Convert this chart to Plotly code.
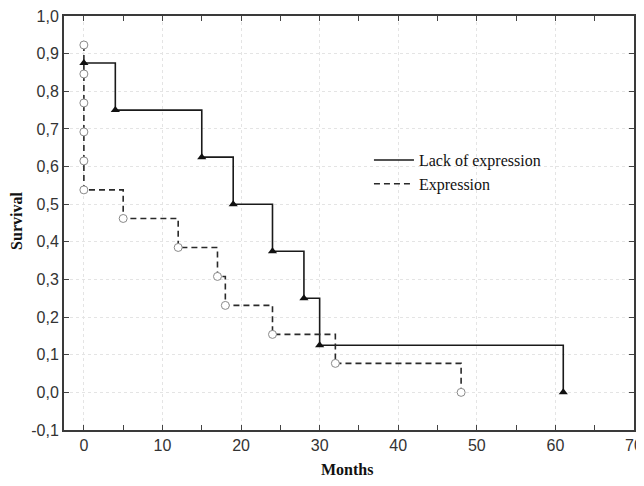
import plotly.graph_objects as go

# Lack of expression (solid, filled triangles)
lack_months = [0, 4, 15, 19, 24, 28, 30, 61]
lack_surv = [0.875, 0.75, 0.625, 0.5, 0.375, 0.25, 0.125, 0.0]

# Expression (dashed, open circles)
expr_months = [0, 0, 0, 0, 0, 0, 5, 12, 17, 18, 24, 32, 48]
expr_surv = [0.923, 0.846, 0.769, 0.692, 0.615, 0.538, 0.462, 0.385, 0.308, 0.231, 0.154, 0.077, 0.0]

y_ticks = [-0.1, 0.0, 0.1, 0.2, 0.3, 0.4, 0.5, 0.6, 0.7, 0.8, 0.9, 1.0]
y_labels = ["-0,1", "0,0", "0,1", "0,2", "0,3", "0,4", "0,5", "0,6", "0,7", "0,8", "0,9", "1,0"]
x_ticks = [0, 10, 20, 30, 40, 50, 60, 70]

fig = go.Figure()

fig.add_trace(go.Scatter(x=lack_months, y=lack_surv, mode="lines", line_shape="hv",
                         line=dict(color="#1a1a1a", width=1.6), name="Lack of expression"))
fig.add_trace(go.Scatter(x=expr_months, y=expr_surv, mode="lines", line_shape="hv",
                         line=dict(color="#2a2a2a", width=1.6, dash="6px,4px"), name="Expression"))
fig.add_trace(go.Scatter(x=expr_months, y=expr_surv, mode="markers", showlegend=False,
                         marker=dict(symbol="circle", size=8, color="white",
                                     line=dict(color="#8a8a8a", width=1))))
fig.add_trace(go.Scatter(x=lack_months, y=lack_surv, mode="markers", showlegend=False,
                         marker=dict(symbol="triangle-up", size=8, color="#111111")))

axis_common = dict(ticks="inside", ticklen=5, tickcolor="#444", mirror="ticks",
                   showline=True, linecolor="#3a3a3a", linewidth=2,
                   showgrid=True, gridcolor="#e4e4e4", griddash="dot", gridwidth=1,
                   zeroline=False, automargin=False, ticklabeloverflow="allow",
                   tickfont=dict(family="Liberation Sans", size=16, color="#333"))

fig.update_layout(
    width=636, height=470,
    margin=dict(l=56, r=10, t=8, b=48),
    plot_bgcolor="white", paper_bgcolor="white",
    showlegend=True,
    legend=dict(x=0.535, y=0.693, xanchor="left", yanchor="top",
                bgcolor="rgba(0,0,0,0)", tracegroupgap=0, itemwidth=40,
                font=dict(family="Liberation Serif", size=16, color="#111")),
    xaxis=dict(range=[-2.53, 70], tickvals=x_ticks,
               minor=dict(dtick=5, tick0=0, ticks="inside", ticklen=5, tickcolor="#444", showgrid=False),
               **axis_common),
    yaxis=dict(range=[-0.1, 1.0], tickvals=y_ticks, ticktext=y_labels, **axis_common),
    annotations=[
        dict(text="<b>Months</b>", xref="paper", yref="paper", x=0.4965, y=-0.0966,
             xanchor="center", yanchor="middle", showarrow=False,
             font=dict(family="Liberation Serif", size=16, color="#111")),
        dict(text="<b>Survival</b>", xref="paper", yref="paper", x=-0.0825, y=0.505,
             xanchor="center", yanchor="middle", showarrow=False, textangle=-90,
             font=dict(family="Liberation Serif", size=16, color="#111")),
    ],
)

fig.write_html("out.html")
